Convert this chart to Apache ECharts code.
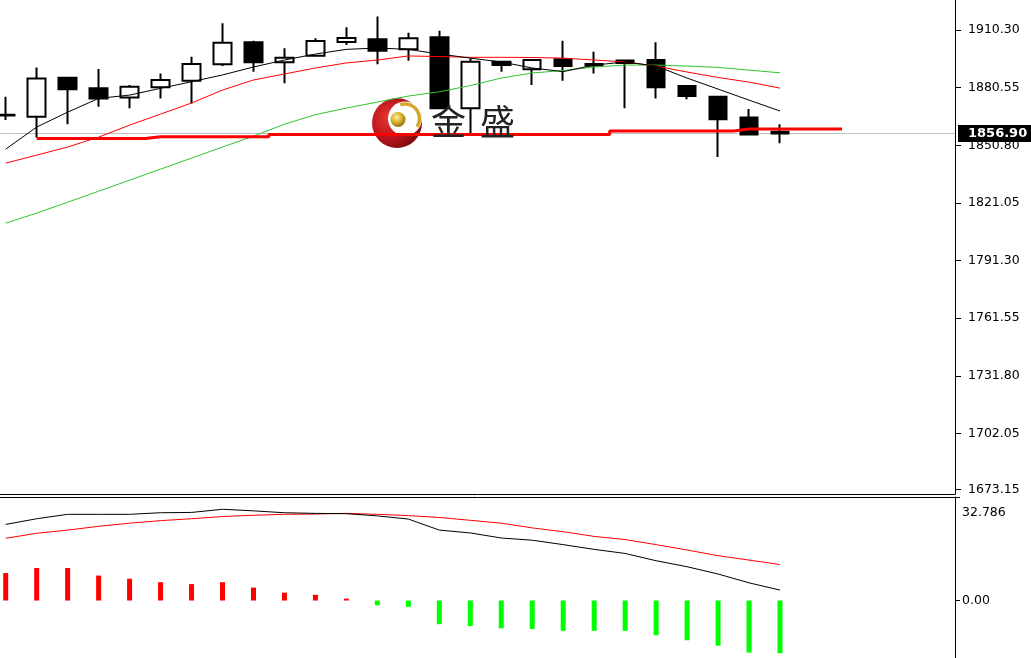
<!DOCTYPE html>
<html><head><meta charset="utf-8">
<script src="https://cdn.jsdelivr.net/npm/echarts@6/dist/echarts.min.js"></script>
<style>html,body{margin:0;padding:0;background:#fff}#c{width:1031px;height:658px}</style>
</head><body><div id="c"></div>
<script>
// ---- data ----
const opens  = [1866.5,1865.5,1885.7,1880.2,1875.5,1880.7,1884.1,1892.6,1904.0,1893.6,1897.0,1904.1,1905.5,1900.3,1906.5,1869.9,1893.9,1890.0,1895.2,1892.7,1894.5,1894.8,1881.4,1875.8,1865.2,1857.8];
const highs  = [1875.8,1891.0,1886.0,1890.2,1881.9,1887.9,1896.5,1913.8,1904.8,1900.9,1906.0,1911.7,1917.2,1908.9,1909.9,1895.7,1893.9,1894.8,1904.8,1899.1,1894.5,1904.0,1881.4,1875.8,1869.5,1861.6];
const lows   = [1863.8,1854.8,1861.7,1870.7,1869.9,1875.0,1872.4,1891.7,1888.8,1882.8,1896.5,1902.6,1892.6,1894.4,1869.5,1856.1,1888.8,1881.9,1884.1,1887.9,1869.9,1875.0,1874.5,1844.8,1856.4,1851.8];
const closes = [1866.2,1885.3,1879.7,1875.0,1881.0,1884.5,1892.7,1903.7,1893.6,1896.0,1904.6,1906.2,1899.6,1906.0,1869.9,1893.9,1892.2,1894.8,1891.7,1892.0,1893.3,1880.7,1876.2,1864.3,1856.4,1856.9];
const maBlack = [1848.8,1860.2,1867.9,1875.0,1876.7,1880.2,1883.6,1887.1,1891.2,1894.8,1897.9,1900.3,1901.0,1900.3,1897.9,1895.8,1893.8,1890.7,1888.8,1892.2,1893.8,1891.7,1885.5,1879.8,1874.1,1868.5];
const maRed   = [1841.6,1845.7,1849.9,1855.0,1861.2,1866.9,1872.6,1879.3,1884.5,1887.6,1890.7,1893.3,1894.8,1896.9,1896.6,1896.2,1896.2,1896.1,1895.8,1894.8,1893.8,1891.7,1888.6,1885.8,1883.4,1880.3];
const maGreen = [1810.6,1815.8,1821.4,1827.1,1832.8,1838.5,1844.2,1849.9,1855.5,1861.7,1866.6,1870.0,1873.1,1876.2,1878.4,1881.6,1885.5,1888.1,1889.4,1891.2,1892.2,1892.2,1891.7,1891.0,1889.6,1888.2];
const supportLine = [null,1854.35,1854.35,1854.35,1854.35,1855.17,1855.17,1855.17,1855.17,1856.41,1856.41,1856.41,1856.41,1856.41,1856.41,1856.41,1856.41,1856.41,1856.41,1856.41,1858.12,1858.12,1858.12,1858.12,1859.15,1859.15,1859.15,1859.15];
const macdMain   = [24.1,25.9,27.3,27.3,27.3,27.8,27.9,28.9,28.4,27.8,27.6,27.5,26.8,25.8,22.3,21.4,19.8,19.1,17.7,16.2,14.9,12.6,10.7,8.4,5.6,3.3];
const macdSignal = [19.7,21.3,22.3,23.5,24.5,25.3,25.9,26.6,27.0,27.3,27.4,27.6,27.3,26.9,26.3,25.4,24.5,23.0,21.8,20.3,19.3,17.7,16.0,14.2,12.8,11.4];
const macdHist   = [8.7,10.3,10.3,7.9,6.9,5.8,5.2,5.8,4.1,2.5,1.8,0.6,-1.5,-2.0,-7.5,-8.1,-8.8,-9.0,-9.6,-9.6,-9.6,-11.0,-12.6,-14.3,-16.5,-16.7];
const priceTicks = [1673.15,1702.05,1731.80,1761.55,1791.30,1821.05,1850.80,1880.55,1910.30];
const macdTicks  = [0, 32.786];
const lastPrice  = 1856.90;

// ---- build series data ----
const candleData = opens.map((o, i) => [i, o, closes[i], lows[i], highs[i]]);
const pairs = arr => arr.map((v, i) => [i, v]).filter(d => d[1] != null);

const FONT = '"DejaVu Sans", sans-serif';
const xCommon = {type: 'value', min: -0.184, max: 30.65,
  axisTick: {show: false}, axisLabel: {show: false}, splitLine: {show: false}};

const chart = echarts.init(document.getElementById('c'), null, {renderer: 'canvas'});
chart.setOption({
  animation: false,
  backgroundColor: '#ffffff',
  grid: [
    {left: 0, right: 76, top: 0, height: 494},
    {left: 0, right: 76, top: 497, bottom: 0}
  ],
  xAxis: [
    Object.assign({gridIndex: 0, position: 'bottom',
      axisLine: {show: true, onZero: false, lineStyle: {color: '#000', width: 1}}}, xCommon),
    Object.assign({gridIndex: 1, position: 'top',
      axisLine: {show: true, onZero: false, lineStyle: {color: '#000', width: 1}}}, xCommon)
  ],
  yAxis: [
    {type: 'value', gridIndex: 0, position: 'right', min: 1670.83, max: 1925.78, scale: true,
      axisLine: {show: true, onZero: false, lineStyle: {color: '#000', width: 1}},
      axisTick: {show: true, inside: false, length: 6, customValues: priceTicks, lineStyle: {color: '#000'}},
      axisLabel: {customValues: priceTicks, formatter: v => v.toFixed(2), margin: 13,
        color: '#000', fontFamily: FONT, fontSize: 12.5},
      splitLine: {show: false}},
    {type: 'value', gridIndex: 1, position: 'right', min: -18.21, max: 32.786,
      axisLine: {show: true, onZero: false, lineStyle: {color: '#000', width: 1}},
      axisTick: {show: true, inside: false, length: 5, customValues: macdTicks, lineStyle: {color: '#000'}},
      axisLabel: {customValues: macdTicks, margin: 7, color: '#000', fontFamily: FONT, fontSize: 12.5,
        formatter: v => v === 0 ? '0.00' : '{t|' + v.toFixed(3) + '}',
        rich: {t: {padding: [32, 0, 0, 0], color: '#000', fontFamily: FONT, fontSize: 12.5}}},
      splitLine: {show: false}}
  ],
  series: [
    {type: 'candlestick', xAxisIndex: 0, yAxisIndex: 0, data: candleData, barWidth: 18,
      itemStyle: {color: '#ffffff', color0: '#000000', borderColor: '#000000', borderColor0: '#000000', borderWidth: 2},
      markLine: {symbol: 'none', silent: true, z: 1, animation: false,
        lineStyle: {color: '#c0c0c0', width: 1, type: 'solid'},
        label: {position: 'end', distance: 3, formatter: lastPrice.toFixed(2),
          backgroundColor: '#000', color: '#fff', padding: [2, 10, 2, 10],
          fontWeight: 'bold', fontSize: 13, fontFamily: FONT},
        data: [{yAxis: lastPrice}]}},
    {type: 'line', xAxisIndex: 0, yAxisIndex: 0, data: pairs(maGreen), showSymbol: false,
      lineStyle: {color: '#2fc42f', width: 1}},
    {type: 'line', xAxisIndex: 0, yAxisIndex: 0, data: pairs(maRed), showSymbol: false,
      lineStyle: {color: '#ff0000', width: 1}},
    {type: 'line', xAxisIndex: 0, yAxisIndex: 0, data: pairs(maBlack), showSymbol: false,
      lineStyle: {color: '#000000', width: 1}},
    {type: 'line', xAxisIndex: 0, yAxisIndex: 0, data: pairs(supportLine), showSymbol: false, step: 'middle',
      lineStyle: {color: '#ff0000', width: 3}},
    {type: 'bar', xAxisIndex: 1, yAxisIndex: 1, data: pairs(macdHist), barWidth: 5,
      itemStyle: {color: p => p.value[1] >= 0 ? '#ff0000' : '#00ff00'}},
    {type: 'line', xAxisIndex: 1, yAxisIndex: 1, data: pairs(macdSignal), showSymbol: false,
      lineStyle: {color: '#ff0000', width: 1}},
    {type: 'line', xAxisIndex: 1, yAxisIndex: 1, data: pairs(macdMain), showSymbol: false,
      lineStyle: {color: '#000000', width: 1}}
  ],
  graphic: [
    {type: 'group', left: 372, top: 98, z: 10, silent: true, children: [
      {type: 'circle', shape: {cx: 26, cy: 24.5, r: 25},
        style: {fill: new echarts.graphic.RadialGradient(0.35, 0.4, 0.75, [
          {offset: 0, color: '#e83a30'}, {offset: 0.55, color: '#b8131c'}, {offset: 1, color: '#6a080c'}])}},
      {type: 'circle', shape: {cx: 34, cy: 20, r: 17}, style: {fill: '#ffffff'}},
      {type: 'arc', shape: {cx: 34, cy: 20, r: 14.5, startAngle: -1.9, endAngle: 0.6},
        style: {stroke: '#d6a52a', lineWidth: 3.5, fill: null}},
      {type: 'circle', shape: {cx: 27, cy: 21, r: 7.5},
        style: {fill: new echarts.graphic.RadialGradient(0.4, 0.35, 0.7, [
          {offset: 0, color: '#fff2a0'}, {offset: 0.5, color: '#d9b02c'}, {offset: 1, color: '#8a6a10'}])}}
    ]},
    {type: 'text', left: 431, top: 104, z: 10, silent: true,
      style: {text: '金', font: '35px "Noto Sans CJK SC"', fill: '#222'}},
    {type: 'text', left: 480, top: 104, z: 10, silent: true,
      style: {text: '盛', font: '35px "Noto Sans CJK SC"', fill: '#222'}}
  ]
});
</script>
</body></html>
